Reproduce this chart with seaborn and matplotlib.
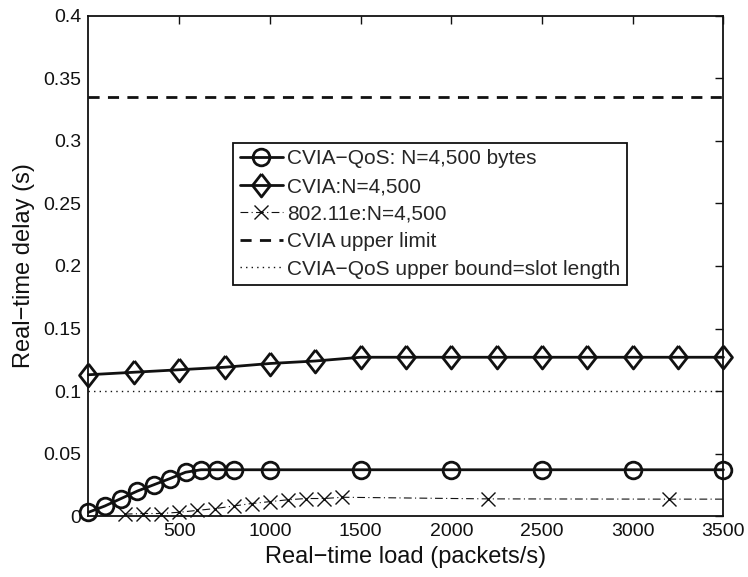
import numpy as np
import pandas as pd
import matplotlib
matplotlib.use("Agg")
import matplotlib.pyplot as plt
import seaborn as sns

# CVIA-QoS delay, N = 4,500 bytes
qos_load = [0, 90, 180, 270, 360, 450, 535, 620, 710, 800, 1000, 1500, 2000, 2500, 3000, 3500]
qos_delay = [0.003, 0.008, 0.014, 0.020, 0.025, 0.030, 0.035, 0.037, 0.037, 0.037,
             0.037, 0.037, 0.037, 0.037, 0.037, 0.037]

# CVIA delay, N = 4,500
cvia_load = [0, 250, 500, 750, 1000, 1250, 1500, 1750, 2000, 2250, 2500, 2750, 3000, 3250, 3500]
cvia_delay = [0.113, 0.115, 0.117, 0.119, 0.122, 0.124, 0.127, 0.127, 0.127, 0.127,
              0.127, 0.127, 0.127, 0.127, 0.127]

# 802.11e delay, N = 4,500
edca_load = [200, 300, 400, 500, 600, 700, 800, 900, 1000, 1100, 1200, 1300, 1400,
             2200, 3200, 3500]
edca_delay = [0.0015, 0.002, 0.002, 0.003, 0.0045, 0.006, 0.008, 0.010, 0.0115, 0.013,
              0.014, 0.014, 0.015, 0.0137, 0.0135, 0.0135]

# horizontal reference levels
cvia_limit = 0.335
qos_bound = 0.1
x_span = [0, 3500]

legend_labels = ["CVIA\u2212QoS: N=4,500 bytes", "CVIA:N=4,500", "802.11e:N=4,500",
                 "CVIA upper limit", "CVIA\u2212QoS upper bound=slot length"]
x_ticks = [500, 1000, 1500, 2000, 2500, 3000, 3500]
y_ticks = [0, 0.05, 0.1, 0.15, 0.2, 0.25, 0.3, 0.35, 0.4]

sns.set_theme(style="white")
plt.rcParams["font.family"] = ["Liberation Sans", "DejaVu Sans"]
plt.rcParams["axes.unicode_minus"] = False

fig = plt.figure(figsize=(7.48, 5.77), dpi=100)
ax = fig.add_axes([0.1183, 0.1057, 0.8489, 0.8666])

k = "#111111"
diamond = [(0, 1), (0.78, 0), (0, -1), (-0.78, 0), (0, 1)]

sns.lineplot(x=qos_load, y=qos_delay, ax=ax, color=k, lw=2.0, marker="o", ms=12,
             mfc="none", mec=k, mew=2.0, label=legend_labels[0], clip_on=False, zorder=5)
sns.lineplot(x=cvia_load, y=cvia_delay, ax=ax, color=k, lw=2.0, marker=diamond, ms=16.5,
             mfc="none", mec=k, mew=2.0, label=legend_labels[1], clip_on=False, zorder=5)
sns.lineplot(x=edca_load, y=edca_delay, ax=ax, color=k, lw=0.8, ls=(0, (7, 3, 1, 3)),
             marker="x", ms=9.5, mec=k, mew=1.0, markevery=list(range(15)),
             label=legend_labels[2], clip_on=False, zorder=4)
sns.lineplot(x=x_span, y=[cvia_limit, cvia_limit], ax=ax, color=k, lw=2.0,
             ls=(0, (4, 3)), label=legend_labels[3])
sns.lineplot(x=x_span, y=[qos_bound, qos_bound], ax=ax, color=k, lw=1.0,
             ls=(0, (1, 3)), label=legend_labels[4])

ax.set_xlim(0, 3500)
ax.set_ylim(0, 0.4)
ax.set_xticks(x_ticks)
ax.set_xticklabels([str(t) for t in x_ticks])
ax.set_yticks(y_ticks)
ax.set_yticklabels(["0", "0.05", "0.1", "0.15", "0.2", "0.25", "0.3", "0.35", "0.4"])
ax.tick_params(direction="in", length=6, width=1, top=True, right=True,
               labelsize=14, colors=k, pad=5)
for s in ax.spines.values():
    s.set_visible(True)
    s.set_color(k)
    s.set_linewidth(1.3)

ax.set_xlabel("Real\u2212time load (packets/s)", fontsize=17, color=k, labelpad=4)
ax.set_ylabel("Real\u2212time delay (s)", fontsize=17, color=k, labelpad=6)

leg = ax.legend(loc="upper left", bbox_to_anchor=(0.228, 0.7455), fontsize=15,
                frameon=True, fancybox=False, edgecolor=k, framealpha=1,
                handlelength=2.1, handletextpad=0.18, labelspacing=0.41,
                borderpad=0.3, borderaxespad=0)
leg.get_frame().set_linewidth(1.3)

fig.savefig("out.png", dpi=100)
